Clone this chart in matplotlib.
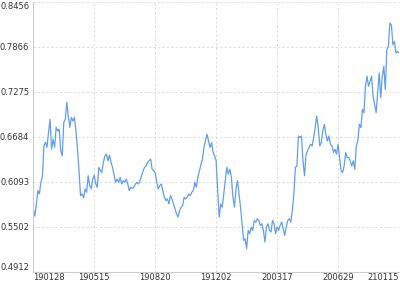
import matplotlib
matplotlib.use("Agg")
import matplotlib.pyplot as plt
import numpy as np

# y-axis ticks and x labels as shown on the chart
y_ticks = [0.4912, 0.5502, 0.6093, 0.6684, 0.7275, 0.7866, 0.8456]
x_labels = ["190128", "190515", "190820", "191202", "200317", "200629", "210115"]

# daily values (6 blocks of 40 steps between labels)
seg1 = [0.5730, 0.5644, 0.5804, 0.5978, 0.5935, 0.6091, 0.6169, 0.6564, 0.6612, 0.6547,
        0.6743, 0.6912, 0.6521, 0.6651, 0.6547, 0.6808, 0.6759, 0.6782, 0.6499, 0.6434,
        0.6873, 0.6912, 0.7133, 0.6955, 0.6808, 0.6938, 0.6890, 0.6938, 0.6759, 0.6521,
        0.6238, 0.5913, 0.5935, 0.5883, 0.6000, 0.5957, 0.6173, 0.6043, 0.6000, 0.6130,
        0.6182]
seg2 = [0.6065, 0.6022, 0.6283, 0.6238, 0.6217, 0.6348, 0.6434, 0.6456, 0.6369, 0.6443,
        0.6348, 0.6283, 0.6182, 0.6087, 0.6130, 0.6087, 0.6152, 0.6065, 0.6108, 0.6087,
        0.6130, 0.6065, 0.5978, 0.6022, 0.6009, 0.6022, 0.6065, 0.6087, 0.6065, 0.6108,
        0.6173, 0.6234, 0.6283, 0.6303, 0.6348, 0.6369, 0.6391, 0.6260, 0.6238, 0.6217]
seg3 = [0.6087, 0.6000, 0.6043, 0.6065, 0.5978, 0.5892, 0.5847, 0.5870, 0.5804, 0.5913,
        0.5870, 0.5804, 0.5739, 0.5674, 0.5635, 0.5713, 0.5761, 0.5782, 0.5892, 0.5870,
        0.5892, 0.5935, 0.5913, 0.5957, 0.5978, 0.6087, 0.6022, 0.6152, 0.6238, 0.6313,
        0.6391, 0.6543, 0.6638, 0.6716, 0.6629, 0.6543, 0.6608, 0.6478, 0.6434, 0.6369]
seg4 = [0.5978, 0.5631, 0.5804, 0.5761, 0.5935, 0.6108, 0.6283, 0.6195, 0.6260, 0.6152,
        0.5892, 0.5761, 0.6000, 0.6108, 0.5935, 0.5761, 0.5544, 0.5326, 0.5348, 0.5218,
        0.5457, 0.5413, 0.5501, 0.5457, 0.5587, 0.5566, 0.5609, 0.5587, 0.5522, 0.5544,
        0.5457, 0.5305, 0.5501, 0.5544, 0.5457, 0.5436, 0.5587, 0.5544, 0.5413, 0.5501]
seg5 = [0.5457, 0.5522, 0.5566, 0.5479, 0.5391, 0.5501, 0.5587, 0.5609, 0.5566, 0.5717,
        0.5935, 0.6283, 0.6303, 0.6694, 0.6674, 0.6694, 0.6369, 0.6173, 0.6456, 0.6499,
        0.6543, 0.6586, 0.6564, 0.6674, 0.6804, 0.6955, 0.6804, 0.6564, 0.6608, 0.6759,
        0.6847, 0.6716, 0.6629, 0.6694, 0.6586, 0.6564, 0.6478, 0.6521, 0.6456, 0.6586]
seg6 = [0.6413, 0.6238, 0.6217, 0.6303, 0.6478, 0.6413, 0.6413, 0.6369, 0.6303, 0.6369,
        0.6260, 0.6564, 0.6629, 0.6847, 0.6804, 0.7042, 0.6999, 0.7346, 0.7476, 0.7346,
        0.7411, 0.7476, 0.7216, 0.7107, 0.6999, 0.7260, 0.7520, 0.7195, 0.7476, 0.7606,
        0.7303, 0.7824, 0.7867, 0.8172, 0.8150, 0.7889, 0.7932, 0.7781, 0.7802, 0.7781]

values = np.array(seg1 + seg2 + seg3 + seg4 + seg5 + seg6)
x = np.arange(len(values))
n = len(values) - 1
x_tick_pos = np.linspace(0, n, len(x_labels))

fig = plt.figure(figsize=(4.0, 2.82), dpi=100)
ax = fig.add_axes([33.3 / 400, 10 / 282, 365.7 / 400, 270.5 / 282])

ax.plot(x, values, color="#5f9ef0", linewidth=0.9)

ax.set_xlim(0, n)
ax.set_ylim(y_ticks[0], y_ticks[-1])

ax.set_yticks(y_ticks)
ax.set_yticklabels([f"{v:.4f}" for v in y_ticks])
ax.set_xticks(x_tick_pos)
ax.set_xticklabels(x_labels)

ax.grid(True, color="#dddddd", linestyle=(0, (2, 2)), linewidth=0.8)
ax.tick_params(axis="both", length=0, labelsize=6, colors="#333333")
ax.tick_params(axis="x", pad=0.5)
ax.tick_params(axis="y", pad=3)

# keep first/last labels inside the canvas
xl = ax.get_xticklabels()
xl[0].set_ha("left")
xl[-1].set_ha("right")
yl = ax.get_yticklabels()
yl[0].set_va("bottom")
yl[-1].set_va("top")

for side in ["top", "right"]:
    ax.spines[side].set_visible(False)
for side in ["left", "bottom"]:
    ax.spines[side].set_color("#cccccc")
    ax.spines[side].set_linewidth(0.8)

fig.savefig("out.png", dpi=100)
